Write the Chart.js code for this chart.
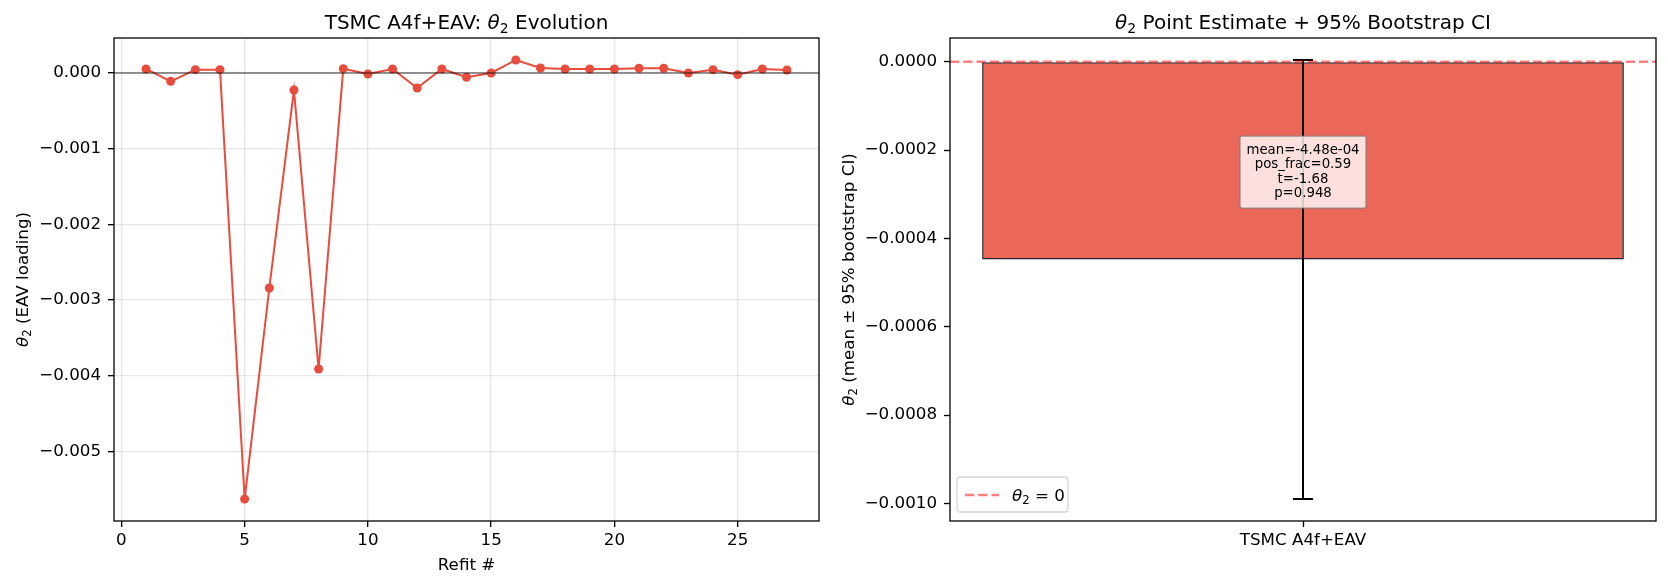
<!DOCTYPE html>
<html>
<head>
<meta charset="utf-8">
<script src="https://cdn.jsdelivr.net/npm/chart.js@4.4.0/dist/chart.umd.min.js"></script>
<style>
  html, body { margin: 0; padding: 0; background: #fff; }
  #wrap { position: relative; width: 1668px; height: 587px; }
  .pane { position: absolute; top: 0; width: 834px; height: 587px; }
</style>
</head>
<body>
<div id="wrap">
  <div class="pane" style="left:0"><canvas id="evo"></canvas></div>
  <div class="pane" style="left:834px"><canvas id="ci"></canvas></div>
</div>
<script>
// left panel: theta_2 per refit
const refits = [1, 2, 3, 4, 5, 6, 7, 8, 9, 10, 11, 12, 13, 14, 15, 16, 17, 18, 19, 20, 21, 22, 23, 24, 25, 26, 27];
const theta2 = [0.000053, -0.00011, 0.000044, 0.000044, -0.005627, -0.00284, -0.000225, -0.00391, 0.000057,
  -0.000013, 0.000053, -0.000198, 0.000053, -0.000057, 0.0, 0.000172, 0.000066, 0.000053, 0.000053,
  0.000053, 0.000062, 0.000062, 0.0, 0.000044, -0.000022, 0.000053, 0.00004];
const refitTicks = [0, 5, 10, 15, 20, 25];
const thetaTicks = [0, -0.001, -0.002, -0.003, -0.004, -0.005];

// right panel: point estimate + bootstrap CI
const barLabels = ['TSMC A4f+EAV'];
const barMeans = [-0.000448];
const ciLow = [-0.00099];
const ciHigh = [0.000004];
const ciTicks = [0, -0.0002, -0.0004, -0.0006, -0.0008, -0.001];
const noteLines = ['mean=-4.48e-04', 'pos_frac=0.59', 't=-1.68', 'p=0.948'];
const noteY = -0.00025;

const FAM = "'DejaVu Sans'";
const RED = '#e74c3c';
Chart.defaults.font.family = FAM;
Chart.defaults.font.size = 16.7;
Chart.defaults.color = '#000';
Chart.defaults.animation = false;

function fmt(v, d) {
  if (Math.abs(v) < 1e-12) return (0).toFixed(d);
  return (v < 0 ? '\u2212' : '') + Math.abs(v).toFixed(d);
}

// draws text with mathtext-like italic theta and subscript 2
function mathText(ctx, parts, x, cy, size, align) {
  const fontOf = k => (k === 'i' ? 'italic ' : '') + (k === 's' ? size * 0.7 : size) + 'px ' + FAM;
  let w = 0;
  parts.forEach(([t, k]) => { ctx.font = fontOf(k); w += ctx.measureText(t).width; });
  let cx = align === 'left' ? x : x - w / 2;
  const base = cy + size * 0.36;
  ctx.textAlign = 'left';
  ctx.textBaseline = 'alphabetic';
  ctx.fillStyle = '#000';
  parts.forEach(([t, k]) => {
    ctx.font = fontOf(k);
    ctx.fillText(t, cx, k === 's' ? base + size * 0.2 : base);
    cx += ctx.measureText(t).width;
  });
}

function frame(ctx, a) {
  ctx.strokeStyle = '#000';
  ctx.lineWidth = 1.3;
  ctx.strokeRect(a.left, a.top, a.right - a.left, a.bottom - a.top);
}

function titles(chart, title, ylabel, ylabelX) {
  const {ctx, chartArea: a} = chart;
  ctx.save();
  mathText(ctx, title, (a.left + a.right) / 2, 21.5, 20, 'center');
  ctx.translate(ylabelX, (a.top + a.bottom) / 2);
  ctx.rotate(-Math.PI / 2);
  mathText(ctx, ylabel, 0, 0, 16.7, 'center');
  ctx.restore();
}

const evoDecor = {
  id: 'evoDecor',
  afterDatasetsDraw(chart) {
    const {ctx, chartArea: a, scales: {y}} = chart;
    ctx.save();
    const y0 = y.getPixelForValue(0);
    ctx.strokeStyle = 'rgba(0,0,0,0.4)';
    ctx.lineWidth = 2;
    ctx.beginPath(); ctx.moveTo(a.left, y0); ctx.lineTo(a.right, y0); ctx.stroke();
    frame(ctx, a);
    ctx.restore();
  },
  afterDraw(chart) {
    titles(chart, [['TSMC A4f+EAV: ', ''], ['\u03b8', 'i'], ['2', 's'], [' Evolution', '']],
      [['\u03b8', 'i'], ['2', 's'], [' (EAV loading)', '']], 22);
  }
};

const ciDecor = {
  id: 'ciDecor',
  afterDatasetsDraw(chart) {
    const {ctx, chartArea: a, scales: {y}} = chart;
    const bx = chart.getDatasetMeta(0).data[0].x;
    ctx.save();
    // error bar
    const lo = y.getPixelForValue(ciLow[0]), hi = y.getPixelForValue(ciHigh[0]);
    ctx.strokeStyle = '#000';
    ctx.lineWidth = 2;
    ctx.beginPath();
    ctx.moveTo(bx, lo); ctx.lineTo(bx, hi);
    ctx.moveTo(bx - 10, lo); ctx.lineTo(bx + 10, lo);
    ctx.moveTo(bx - 10, hi); ctx.lineTo(bx + 10, hi);
    ctx.stroke();
    // zero line
    const y0 = y.getPixelForValue(0);
    ctx.strokeStyle = 'rgba(255,0,0,0.5)';
    ctx.lineWidth = 2.5;
    ctx.setLineDash([9.25, 4]);
    ctx.beginPath(); ctx.moveTo(a.left, y0); ctx.lineTo(a.right, y0); ctx.stroke();
    ctx.setLineDash([]);
    // stats box
    const ny = y.getPixelForValue(noteY);
    ctx.fillStyle = 'rgba(255,255,255,0.8)';
    ctx.strokeStyle = 'rgba(128,128,128,0.8)';
    ctx.lineWidth = 1.3;
    ctx.beginPath();
    ctx.roundRect(bx - 63, ny - 36, 126, 72, 2);
    ctx.fill(); ctx.stroke();
    ctx.fillStyle = '#000';
    ctx.font = '13.3px ' + FAM;
    ctx.textAlign = 'center';
    ctx.textBaseline = 'middle';
    noteLines.forEach((t, i) => ctx.fillText(t, bx, ny + (i - 1.5) * 14.5));
    // legend
    const lx = a.left + 7, ly = a.bottom - 44;
    ctx.fillStyle = 'rgba(255,255,255,0.8)';
    ctx.strokeStyle = 'rgba(204,204,204,0.8)';
    ctx.lineWidth = 1.3;
    ctx.beginPath();
    ctx.roundRect(lx, ly, 111, 35, 3.3);
    ctx.fill(); ctx.stroke();
    ctx.strokeStyle = 'rgba(255,0,0,0.5)';
    ctx.lineWidth = 2.5;
    ctx.setLineDash([9.25, 4]);
    ctx.beginPath(); ctx.moveTo(lx + 8, ly + 18); ctx.lineTo(lx + 42, ly + 18); ctx.stroke();
    ctx.setLineDash([]);
    mathText(ctx, [['\u03b8', 'i'], ['2', 's'], [' = 0', '']], lx + 55, ly + 18, 16.7, 'left');
    frame(ctx, a);
    ctx.restore();
  },
  afterDraw(chart) {
    titles(chart, [['\u03b8', 'i'], ['2', 's'], [' Point Estimate + 95% Bootstrap CI', '']],
      [['\u03b8', 'i'], ['2', 's'], [' (mean \u00b1 95% bootstrap CI)', '']], 14);
  }
};

new Chart(document.getElementById('evo'), {
  type: 'line',
  data: {
    datasets: [{
      data: refits.map((r, i) => ({x: r, y: theta2[i]})),
      borderColor: RED,
      backgroundColor: RED,
      borderWidth: 2,
      pointRadius: 4.5,
      pointBorderWidth: 0,
      pointBackgroundColor: RED,
      tension: 0
    }]
  },
  options: {
    responsive: true,
    maintainAspectRatio: false,
    layout: { padding: { top: 38, right: 15, left: 0, bottom: 0 } },
    plugins: { legend: { display: false }, tooltip: { enabled: false } },
    scales: {
      x: {
        type: 'linear', min: -0.3, max: 28.3,
        afterBuildTicks: s => { s.ticks = refitTicks.map(v => ({value: v})); },
        afterFit: s => { s.height = 66; },
        ticks: { autoSkip: false, maxRotation: 0, padding: 4, callback: v => String(v) },
        grid: { color: 'rgba(176,176,176,0.3)', lineWidth: 1.33, tickColor: '#000', tickWidth: 1.33, tickLength: 6 },
        border: { display: false },
        title: { display: true, text: 'Refit #', font: { size: 16.7 }, padding: { top: 0, bottom: 11 } }
      },
      y: {
        type: 'linear', min: -0.005917, max: 0.000462,
        afterBuildTicks: s => { s.ticks = thetaTicks.map(v => ({value: v})); },
        afterFit: s => { s.width = 114; },
        ticks: { autoSkip: false, padding: 7, callback: v => fmt(v, 3) },
        grid: { color: 'rgba(176,176,176,0.3)', lineWidth: 1.33, tickColor: '#000', tickWidth: 1.33, tickLength: 6 },
        border: { display: false }
      }
    }
  },
  plugins: [evoDecor]
});

new Chart(document.getElementById('ci'), {
  type: 'bar',
  data: {
    labels: barLabels,
    datasets: [{
      data: barMeans,
      backgroundColor: 'rgba(231,76,60,0.85)',
      borderColor: 'rgba(0,0,0,0.85)',
      borderWidth: 1.6,
      borderSkipped: false,
      barPercentage: 0.909,
      categoryPercentage: 1
    }]
  },
  options: {
    responsive: true,
    maintainAspectRatio: false,
    layout: { padding: { top: 38, right: 12, left: 0, bottom: 0 } },
    plugins: { legend: { display: false }, tooltip: { enabled: false } },
    scales: {
      x: {
        afterFit: s => { s.height = 66; },
        ticks: { maxRotation: 0, padding: 4 },
        grid: { offset: false, drawOnChartArea: false, tickColor: '#000', tickWidth: 1.33, tickLength: 6 },
        border: { display: false }
      },
      y: {
        type: 'linear', min: -0.00104, max: 0.0000537,
        afterBuildTicks: s => { s.ticks = ciTicks.map(v => ({value: v})); },
        afterFit: s => { s.width = 116; },
        ticks: { autoSkip: false, padding: 7, callback: v => fmt(v, 4) },
        grid: { drawOnChartArea: false, tickColor: '#000', tickWidth: 1.33, tickLength: 6 },
        border: { display: false }
      }
    }
  },
  plugins: [ciDecor]
});
</script>
</body>
</html>
